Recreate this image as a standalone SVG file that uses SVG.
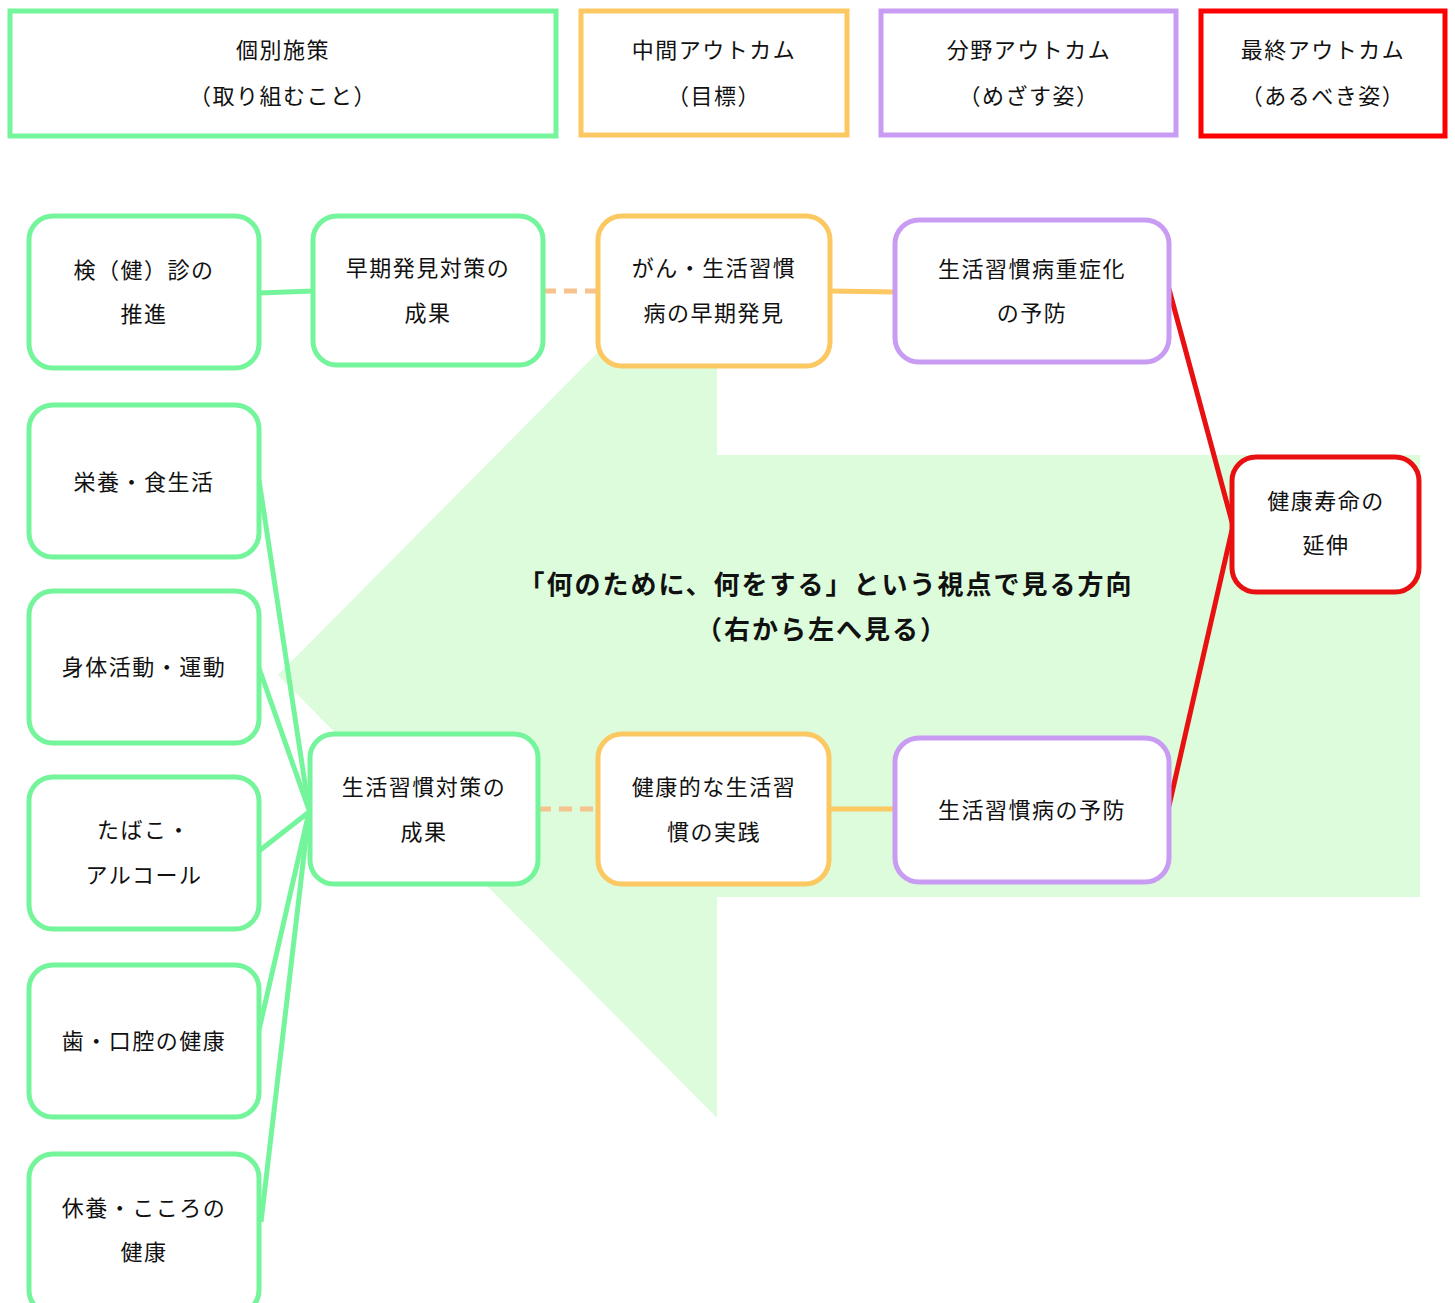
<svg xmlns="http://www.w3.org/2000/svg" width="1455" height="1303" viewBox="0 0 1455 1303">
<style>
text{font-family:"Noto Sans CJK JP","Noto Sans CJK SC",sans-serif;font-size:22px;letter-spacing:1.5px;fill:#111;text-anchor:middle}
.hdr{fill:#fff;stroke-width:5}
.node{fill:#fff;stroke-width:5}
.g{stroke:#74f59c}
.o{stroke:#fbc862}
.p{stroke:#c99cf3}
.r{stroke:#e81010}
.big{font-size:26px;font-weight:bold;letter-spacing:2px}
.conn line{stroke-width:5;fill:none}
.dash{stroke:#f6c28e;stroke-dasharray:13 8}
</style>
<rect width="1455" height="1303" fill="#fff"/>
<polygon id="direction-arrow" points="717,232 278,675 717,1118 717,897 1420,897 1420,455 717,455" fill="#dcfcdc"/>
<text class="big" x="826" y="594">「何のために、何をする」という視点で見る方向</text>
<text class="big" x="822" y="639">（右から左へ見る）</text>

<g id="headers">
<g id="h1"><rect class="hdr g" x="10" y="11" width="546" height="125"/><text x="283" y="58">個別施策</text><text x="283" y="104">（取り組むこと）</text></g>
<g id="h2"><rect class="hdr o" x="581" y="11" width="266" height="124"/><text x="714" y="58">中間アウトカム</text><text x="714" y="104">（目標）</text></g>
<g id="h3"><rect class="hdr p" x="881" y="11" width="295" height="124"/><text x="1029" y="58">分野アウトカム</text><text x="1029" y="104">（めざす姿）</text></g>
<g id="h4"><rect class="hdr" stroke="#ff0000" x="1201" y="11" width="244" height="125"/><text x="1323" y="58">最終アウトカム</text><text x="1323" y="104">（あるべき姿）</text></g>
</g>

<g id="connectors" class="conn">
<line class="g" x1="259" y1="293" x2="314" y2="291"/>
<line class="dash" x1="543" y1="291" x2="598" y2="291"/>
<line class="o" x1="830" y1="291" x2="895" y2="292"/>
<line class="r" x1="1169" y1="289" x2="1232" y2="522"/>
<line class="r" x1="1232" y1="530" x2="1169" y2="806"/>
<line class="g" x1="259" y1="480" x2="309" y2="810"/>
<line class="g" x1="259" y1="668" x2="309" y2="810"/>
<line class="g" x1="259" y1="851" x2="309" y2="812"/>
<line class="g" x1="259" y1="1030" x2="309" y2="812"/>
<line class="g" x1="261" y1="1222" x2="309" y2="812"/>
<line class="dash" x1="538" y1="809" x2="598" y2="809"/>
<line class="o" x1="829" y1="809" x2="895" y2="809"/>
</g>

<g id="n-kenshin"><rect class="node g" x="29" y="216" width="230" height="152" rx="24"/><text x="144" y="278">検（健）診の</text><text x="144" y="322">推進</text></g>
<g id="n-souki"><rect class="node g" x="313" y="216" width="230" height="149" rx="24"/><text x="428" y="276">早期発見対策の</text><text x="428" y="321">成果</text></g>
<g id="n-gan"><rect class="node o" x="598" y="216" width="232" height="150" rx="24"/><text x="714" y="276">がん・生活習慣</text><text x="714" y="321">病の早期発見</text></g>
<g id="n-juusho"><rect class="node p" x="895" y="220" width="274" height="142" rx="24"/><text x="1032" y="277">生活習慣病重症化</text><text x="1032" y="321">の予防</text></g>
<g id="n-jumyo"><rect class="node r" x="1232" y="457" width="187" height="135" rx="24"/><text x="1326" y="509">健康寿命の</text><text x="1326" y="553">延伸</text></g>
<g id="n-eiyo"><rect class="node g" x="29" y="405" width="230" height="152" rx="24"/><text x="144" y="490">栄養・食生活</text></g>
<g id="n-shintai"><rect class="node g" x="29" y="591" width="230" height="152" rx="24"/><text x="144" y="675">身体活動・運動</text></g>
<g id="n-tabako"><rect class="node g" x="29" y="777" width="230" height="152" rx="24"/><text x="144" y="838">たばこ・</text><text x="144" y="883">アルコール</text></g>
<g id="n-ha"><rect class="node g" x="29" y="965" width="230" height="152" rx="24"/><text x="144" y="1049">歯・口腔の健康</text></g>
<g id="n-kyuyo"><rect class="node g" x="29" y="1154" width="230" height="160" rx="24"/><text x="144" y="1216">休養・こころの</text><text x="144" y="1260">健康</text></g>
<g id="n-seikatsu"><rect class="node g" x="310" y="734" width="228" height="150" rx="24"/><text x="424" y="795">生活習慣対策の</text><text x="424" y="840">成果</text></g>
<g id="n-kenkou"><rect class="node o" x="598" y="734" width="231" height="150" rx="24"/><text x="714" y="795">健康的な生活習</text><text x="714" y="840">慣の実践</text></g>
<g id="n-yobou"><rect class="node p" x="895" y="738" width="274" height="144" rx="24"/><text x="1032" y="818">生活習慣病の予防</text></g>
</svg>
